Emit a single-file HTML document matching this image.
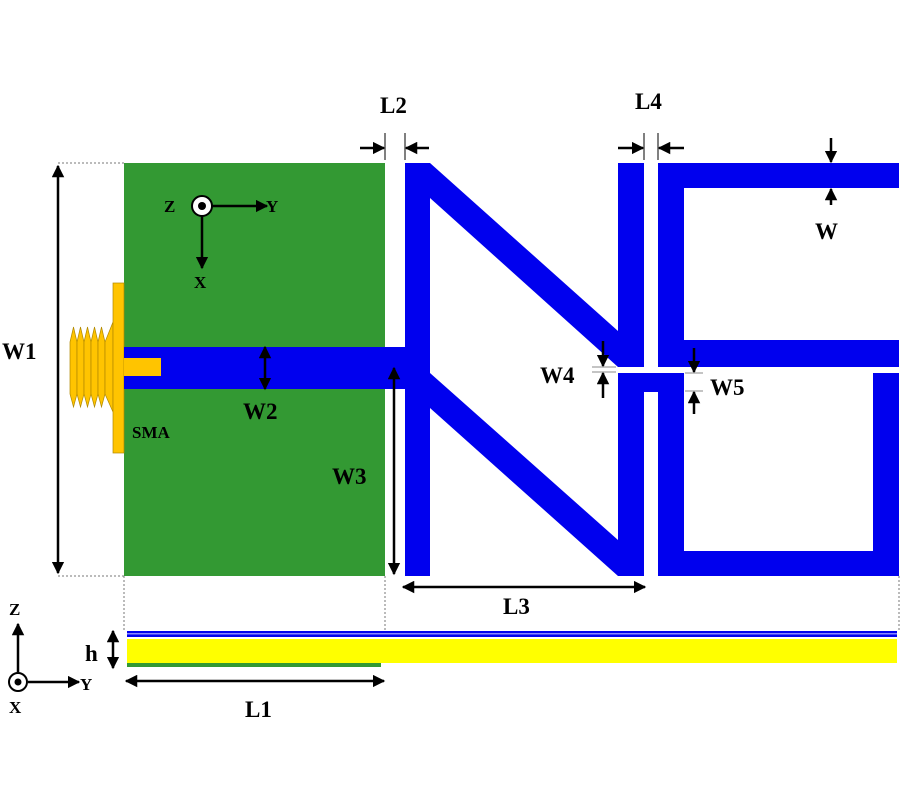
<!DOCTYPE html>
<html><head><meta charset="utf-8"><style>
html,body{margin:0;padding:0;background:#fff;width:900px;height:800px;overflow:hidden}
text{font-family:"Liberation Serif",serif;font-weight:bold;fill:#000}
</style></head><body>
<svg width="900" height="800" viewBox="0 0 900 800" xmlns="http://www.w3.org/2000/svg">
<defs>
<marker id="a" viewBox="0 0 10 10" refX="9" refY="5" markerWidth="5" markerHeight="5" orient="auto-start-reverse"><path d="M0,0L10,5L0,10z" fill="#000"/></marker>
</defs>
<rect x="124" y="163" width="261" height="413" fill="#339933"/>
<g stroke="#777" stroke-width="1" stroke-dasharray="2,2">
<line x1="58" y1="163" x2="124" y2="163"/>
<line x1="58" y1="576" x2="124" y2="576"/>
<line x1="124" y1="576" x2="124" y2="632"/>
<line x1="385" y1="576" x2="385" y2="632"/>
<line x1="899" y1="576" x2="899" y2="632"/>
</g>
<g fill="#ffc400" stroke="#b08800" stroke-width="0.7">
<polygon points="70,342 73.5,327 77,342 77,394 73.5,407 70,394"/>
<polygon points="77,342 80.5,327 84,342 84,394 80.5,407 77,394"/>
<polygon points="84,342 87.5,327 91,342 91,394 87.5,407 84,394"/>
<polygon points="91,342 94.5,327 98,342 98,394 94.5,407 91,394"/>
<polygon points="98,342 101.5,327 105,342 105,394 101.5,407 98,394"/>
<polygon points="105,342 113,322 113,412 105,394"/>
<rect x="113" y="283" width="11" height="170"/>
</g>
<rect x="124" y="347" width="290" height="42" fill="#0000ee"/>
<rect x="124" y="358" width="37" height="18" fill="#ffc400"/>
<g fill="#0000ee">
<rect x="405" y="163" width="25" height="413"/>
<polygon points="405,163 430,163 618,331 618,163 644,163 644,367 618,367 430,198"/>
<polygon points="430,373 618,540 618,373 684,373 684,392 644,392 644,576 618,576 430,408"/>
<rect x="658" y="373" width="26" height="203"/>
<rect x="658" y="551" width="241" height="25"/>
<rect x="873" y="373" width="26" height="203"/>
<rect x="658" y="163" width="241" height="25"/>
<rect x="658" y="163" width="26" height="204"/>
<rect x="658" y="340" width="241" height="27"/>
</g>
<g stroke="#000" stroke-width="2.5" fill="none">
<line x1="58" y1="166" x2="58" y2="573" marker-start="url(#a)" marker-end="url(#a)"/>
<line x1="265" y1="347" x2="265" y2="389" marker-start="url(#a)" marker-end="url(#a)"/>
<line x1="394" y1="368" x2="394" y2="574" marker-start="url(#a)" marker-end="url(#a)"/>
<line x1="403" y1="587" x2="645" y2="587" marker-start="url(#a)" marker-end="url(#a)"/>
<line x1="360" y1="148" x2="384" y2="148" marker-end="url(#a)"/>
<line x1="429" y1="148" x2="406" y2="148" marker-end="url(#a)"/>
<line x1="618" y1="148" x2="643" y2="148" marker-end="url(#a)"/>
<line x1="684" y1="148" x2="659" y2="148" marker-end="url(#a)"/>
<line x1="831" y1="138" x2="831" y2="162" marker-end="url(#a)"/>
<line x1="831" y1="205" x2="831" y2="189" marker-end="url(#a)"/>
<line x1="603" y1="341" x2="603" y2="366" marker-end="url(#a)"/>
<line x1="603" y1="398" x2="603" y2="373" marker-end="url(#a)"/>
<line x1="694" y1="348" x2="694" y2="372" marker-end="url(#a)"/>
<line x1="694" y1="414" x2="694" y2="392" marker-end="url(#a)"/>
<line x1="202" y1="206" x2="267" y2="206" marker-end="url(#a)"/>
<line x1="202" y1="216" x2="202" y2="268" marker-end="url(#a)"/>
<line x1="113" y1="631" x2="113" y2="668" marker-start="url(#a)" marker-end="url(#a)"/>
<line x1="126" y1="681" x2="384" y2="681" marker-start="url(#a)" marker-end="url(#a)"/>
<line x1="18" y1="672" x2="18" y2="624" marker-end="url(#a)"/>
<line x1="28" y1="682" x2="79" y2="682" marker-end="url(#a)"/>
</g>
<g stroke="#000" stroke-width="1">
<line x1="385" y1="133" x2="385" y2="160"/>
<line x1="405" y1="133" x2="405" y2="160"/>
<line x1="644" y1="133" x2="644" y2="160"/>
<line x1="658" y1="133" x2="658" y2="160"/>
</g>
<g stroke="#888" stroke-width="1">
<line x1="592" y1="367" x2="616" y2="367"/><line x1="592" y1="372" x2="616" y2="372"/>
<line x1="685" y1="373" x2="703" y2="373"/><line x1="685" y1="391" x2="703" y2="391"/>
</g>
<circle cx="202" cy="206" r="10" fill="#fff" stroke="#000" stroke-width="2"/>
<circle cx="202" cy="206" r="4" fill="#000"/>
<circle cx="18" cy="682" r="9" fill="#fff" stroke="#000" stroke-width="2"/>
<circle cx="18" cy="682" r="3.5" fill="#000"/>
<rect x="127" y="631" width="770" height="6" fill="#0000ee"/>
<rect x="127" y="633" width="770" height="1.5" fill="#8888ff"/>
<rect x="127" y="639" width="770" height="24" fill="#ffff00"/>
<rect x="127" y="663" width="254" height="4" fill="#339933"/>
<g font-size="23">
<text x="2" y="359">W1</text>
<text x="243" y="419">W2</text>
<text x="332" y="484">W3</text>
<text x="380" y="113">L2</text>
<text x="635" y="109">L4</text>
<text x="815" y="239">W</text>
<text x="540" y="383">W4</text>
<text x="710" y="395">W5</text>
<text x="503" y="614">L3</text>
<text x="245" y="717">L1</text>
<text x="85" y="661">h</text>
</g>
<g font-size="17">
<text x="164" y="212">Z</text>
<text x="266" y="212">Y</text>
<text x="194" y="288">X</text>
<text x="132" y="438">SMA</text>
<text x="9" y="615">Z</text>
<text x="80" y="690">Y</text>
<text x="9" y="713">X</text>
</g>
</svg>
</body></html>
